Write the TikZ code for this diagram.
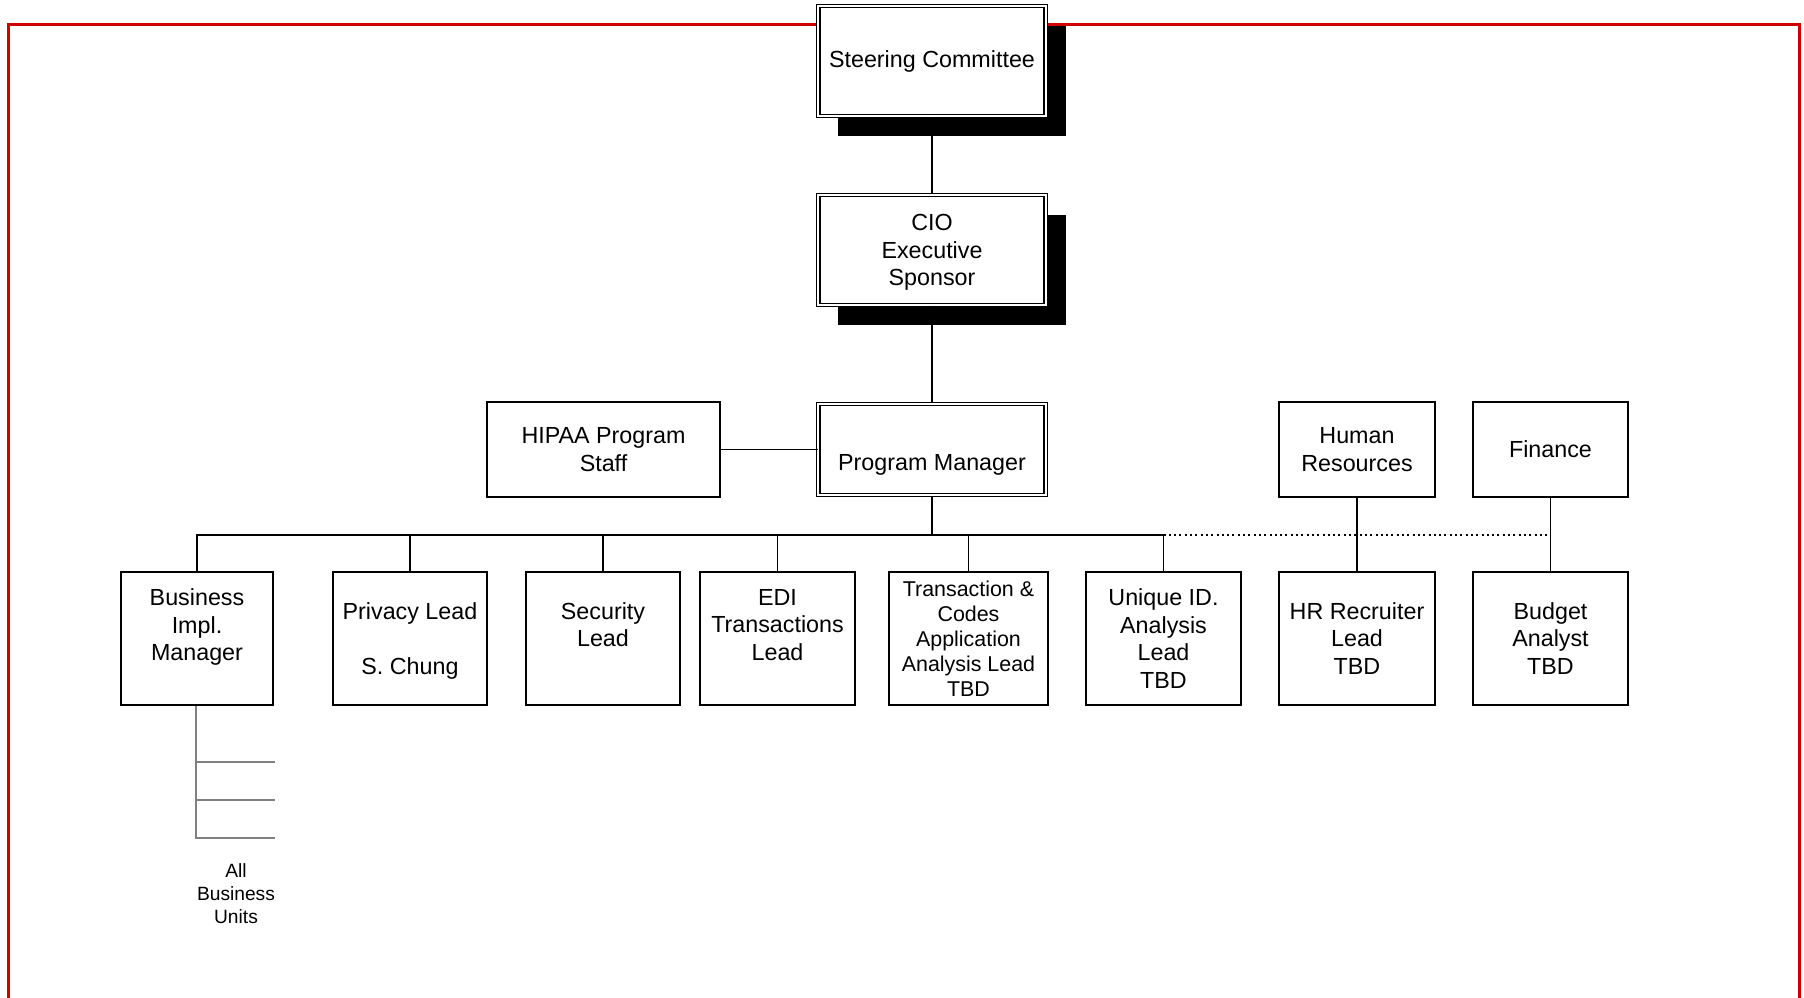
\documentclass[tikz,border=0pt]{standalone}
\usepackage{fontspec}
\setmainfont{Liberation Sans}
\usetikzlibrary{shadows}
\definecolor{framered}{RGB}{208,0,0}
\definecolor{unitgray}{RGB}{128,128,128}

\begin{document}
\begin{tikzpicture}[x=1pt,y=-1pt,
  box/.style={draw, fill=white, align=center, inner sep=0pt,
    font=\fontsize{23.3}{27.6}\selectfont, line width=1.8pt},
  dbox/.style={box, double, double distance=2.3pt, line width=1.3pt,
    minimum width=227.5pt},
  shadowed/.style={drop shadow={shadow xshift=20pt, shadow yshift=-20pt,
    fill=black, opacity=1}},
  topbox/.style={box, minimum height=95pt},
  child/.style={box, minimum height=133pt},
  smalltext/.style={font=\fontsize{21.4}{25}\selectfont},
  conn/.style={draw, line width=1.8pt},
  unitline/.style={draw=unitgray, line width=1.6pt},
]
\useasboundingbox (0,0) rectangle (1804,998);
\clip (0,0) rectangle (1804,998);

% outer red frame (its bottom edge runs off the page)
\draw[framered, line width=3pt] (8.5,1020) -- (8.5,25) -- (1799.5,25) -- (1799.5,1020);

% executive chain
\node[dbox, shadowed, minimum height=110pt] (steer) at (932,61) {Steering Committee};
\node[dbox, shadowed, minimum height=110pt] (cio) at (932,250) {CIO\\Executive\\\smash{Sponsor}};
\node[dbox, minimum height=91pt] (pm) at (932,449.5) {\strut\\Program Manager};

% side boxes on the manager row
\node[topbox, minimum width=233pt] (hipaa) at (603.5,449.5) {HIPAA Program\\Staff};
\node[topbox, minimum width=156pt] (hr) at (1357,449.5) {Human\\Resources};
\node[topbox, minimum width=155pt] (fin) at (1550.5,449.5) {Finance};

% leads
\node[child, minimum width=152pt] (biz) at (197,638.5) {Business\\Impl.\\Manager\\\phantom{TBD}};
\node[child, minimum width=154pt] (priv) at (410,638.5) {Privacy Lead\\\phantom{X}\\\smash{S. Chung}};
\node[child, minimum width=154pt] (sec) at (603,638.5) {Security\\Lead\\\phantom{TBD}};
\node[child, minimum width=155pt] (edi) at (777.5,638.5) {EDI\\Transactions\\Lead\\\phantom{TBD}};
\node[child, smalltext, minimum width=159pt] (tc) at (968.5,638.5) {Transaction \&\\Codes\\Application\\Analysis Lead\\TBD};
\node[child, minimum width=155pt] (uid) at (1163.5,638.5) {Unique ID.\\Analysis\\Lead\\TBD};
\node[child, minimum width=156pt] (hrr) at (1357,638.5) {HR Recruiter\\Lead\\TBD};
\node[child, minimum width=155pt] (bud) at (1550.5,638.5) {Budget\\Analyst\\TBD};

% business units
\node[align=center, inner sep=0pt, font=\fontsize{19.2}{23}\selectfont] (units) at (236,894) {All\\Business\\Units};
\coordinate (bu1) at (275,762);
\coordinate (bu2) at (275,800);
\coordinate (bu3) at (275,838);

% connectors
\coordinate (bus) at (0,535);
\path[conn] (steer.south) -- (cio.north);
\path[conn] (cio.south) -- (pm.north);
\path[conn] (hipaa.east) -- (pm.west);
\path[conn] (pm.south) -- (pm.south |- bus);
\path[conn] (biz.north) |- (uid.north |- bus) -- (uid.north);
\foreach \n in {priv,sec,edi,tc}
  \path[conn] (\n.north) -- (\n.north |- bus);
\path[conn, line width=1.6pt, dash pattern=on 2pt off 3.3pt] (uid.north |- bus) -- (bud.north |- bus);
\path[conn] (hr.south) -- (hrr.north);
\path[conn] (fin.south) -- (bud.north);

\path[unitline] ([xshift=-1pt]biz.south) -- ([xshift=-1pt]biz.south |- bu3) -- (bu3);
\path[unitline] ([xshift=-1pt]biz.south |- bu1) -- (bu1);
\path[unitline] ([xshift=-1pt]biz.south |- bu2) -- (bu2);
\end{tikzpicture}
\end{document}
